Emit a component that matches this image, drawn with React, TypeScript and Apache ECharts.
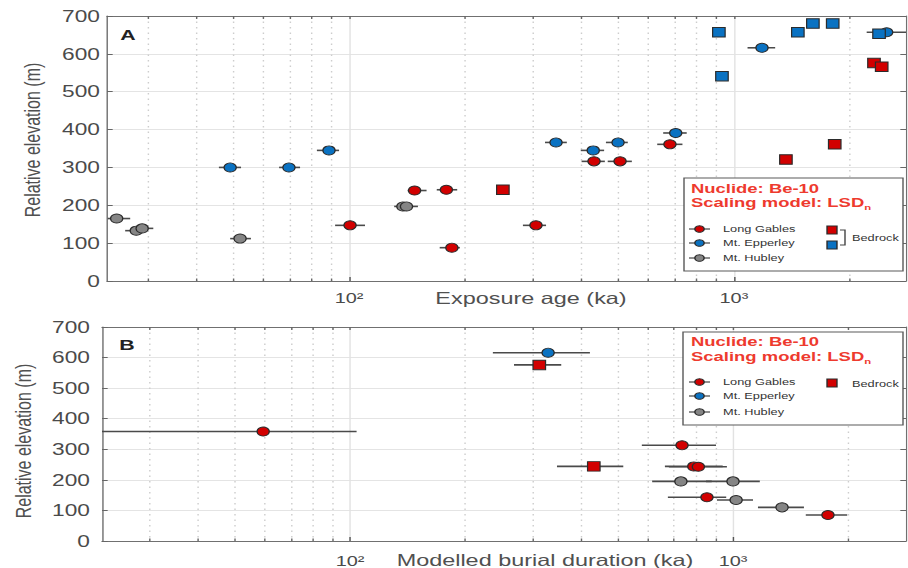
import React, { useEffect, useRef } from 'react';
import * as echarts from 'echarts';

// The reference figure is stretched horizontally; the chart is drawn narrower and scaled in x.
const S = 1.42;
const FONT = "'Liberation Sans', Arial, Helvetica, sans-serif";

// ---------- Panel A: exposure age (ka) vs relative elevation (m) ----------
const aLongGablesAge = [100.6, 148, 179, 185, 306, 433, 506, 682];
const aLongGablesElev = [147, 239, 241, 88, 147, 316, 316, 361];
const aLongGablesLo = [92, 142, 169, 172, 283, 402, 470, 632];
const aLongGablesHi = [110, 159, 191, 194, 325, 462, 543, 735];

const aEpperleyAge = [49.1, 69.8, 88.7, 345, 431, 500, 706, 1183, 2494];
const aEpperleyElev = [300, 300, 345, 366, 345, 366, 391, 616, 657];
const aEpperleyLo = [45.9, 65.8, 82.5, 323, 400, 465, 655, 1085, 2213];
const aEpperleyHi = [52.4, 74.6, 94.2, 368, 460, 530, 754, 1280, 2850];

const aHubleyAge = [24.9, 28.0, 29.0, 52.1, 138, 141];
const aHubleyElev = [165, 133, 139, 112, 197, 197];
const aHubleyLo = [23.6, 26.2, 27.3, 49.1, 131, 134];
const aHubleyHi = [27.0, 29.8, 31.0, 55.6, 146, 151];

const aBedrockRedAge = [251, 1365, 1828, 2312, 2421];
const aBedrockRedElev = [241, 321, 361, 576, 566];
const aBedrockBlueAge = [914, 931, 1466, 1604, 1806, 2383];
const aBedrockBlueElev = [657, 541, 657, 680, 680, 653];

// ---------- Panel B: modelled burial duration (ka) vs relative elevation (m) ----------
const bLongGablesDur = [59.3, 736, 790, 812, 855, 1770];
const bLongGablesElev = [358, 313, 244, 243, 143, 85];
const bLongGablesLo = [10, 578, 664, 680, 676, 1549];
const bLongGablesHi = [104, 903, 940, 964, 960, 1987];

const bEpperleyDur = [329];
const bEpperleyElev = [616];
const bEpperleyLo = [236];
const bEpperleyHi = [423];

const bHubleyDur = [731, 1000, 1019, 1343];
const bHubleyElev = [195, 195, 134, 110];
const bHubleyLo = [615, 850, 908, 1162];
const bHubleyHi = [880, 1175, 1128, 1532];

const bBedrockDur = [312, 433];
const bBedrockElev = [576, 244];
const bBedrockLo = [268, 347];
const bBedrockHi = [356, 517];

// ---------- Axes ----------
const aAgeMin = 23.5;
const aAgeMax = 2800;
const bDurMin = 22.5;
const bDurMax = 2830;
const elevMin = 0;
const elevMax = 700;
const elevStep = 100;
const xMajorValues = [100, 1000];
const xMajorLabels = ['10²', '10³'];
const xMinorValues = [30, 40, 50, 60, 70, 80, 90, 200, 300, 400, 500, 600, 700, 800, 900, 2000];

const legendNames = ['Long Gables', 'Mt. Epperley', 'Mt. Hubley'];
const bedrockName = 'Bedrock';
const nuclideText = 'Nuclide: Be-10';
const scalingText = 'Scaling model: LSD';
const scalingSub = 'n';
const xNameA = 'Exposure age (ka)';
const xNameB = 'Modelled burial duration (ka)';
const yName = 'Relative elevation (m)';

const RED = '#d20000';
const BLUE = '#0a72c2';
const GRAY = '#858585';
const TITLE_RED = '#ee3a2e';
const AXIS_COL = '#707070';
const LABEL_COL = '#4a4a4a';
const MARK_SIZE = [8.6, 9];

const sx = (px: number) => px / S;

function labelFor(v: number) {
  let best = 0;
  let bd = Infinity;
  xMajorValues.forEach((m, i) => {
    const d = Math.abs(Math.log10(v) - Math.log10(m));
    if (d < bd) { bd = d; best = i; }
  });
  return xMajorLabels[best];
}

function xAxes(gridIndex: number, min: number, max: number, labelMargin: number) {
  const base = { type: 'log', logBase: 10, gridIndex, min, max };
  return [
    {
      ...base,
      position: 'bottom',
      axisLine: { show: true, onZero: false, lineStyle: { color: AXIS_COL, width: 1 } },
      axisTick: { show: true, inside: true, length: 4, customValues: xMajorValues, lineStyle: { color: '#555' } },
      axisLabel: {
        show: true, customValues: xMajorValues, margin: labelMargin, fontSize: 14,
        fontFamily: FONT, color: LABEL_COL, formatter: (v: number) => labelFor(v),
      },
      splitLine: { show: true, lineStyle: { color: '#e2e2e2', width: 1, type: 'solid' } },
      minorTick: { show: false },
      minorSplitLine: { show: false },
    },
    {
      ...base,
      position: 'bottom',
      axisLine: { show: false, onZero: false },
      axisTick: { show: true, inside: true, length: 2.5, customValues: xMinorValues, lineStyle: { color: '#666' } },
      axisLabel: { show: false },
      splitLine: { show: true, lineStyle: { color: '#cdcdcd', width: 1, type: [1.5, 4] } },
      minorTick: { show: false },
      minorSplitLine: { show: false },
    },
    {
      ...base,
      position: 'top',
      axisLine: { show: true, onZero: false, lineStyle: { color: AXIS_COL, width: 1 } },
      axisTick: { show: true, inside: true, length: 3, customValues: [...xMajorValues, ...xMinorValues], lineStyle: { color: '#666' } },
      axisLabel: { show: false },
      splitLine: { show: false },
      minorTick: { show: false },
      minorSplitLine: { show: false },
    },
  ];
}

function yAxes(gridIndex: number, labelMargin: number) {
  const base = { type: 'value', gridIndex, min: elevMin, max: elevMax, interval: elevStep };
  return [
    {
      ...base,
      position: 'left',
      axisLine: { show: true, onZero: false, lineStyle: { color: AXIS_COL, width: 1 } },
      axisTick: { show: true, inside: true, length: 4, lineStyle: { color: '#666' } },
      axisLabel: { margin: labelMargin, fontSize: 16, fontFamily: FONT, color: LABEL_COL },
      splitLine: { show: true, lineStyle: { color: '#e4e4e4', width: 1 } },
    },
    {
      ...base,
      position: 'right',
      axisLine: { show: true, onZero: false, lineStyle: { color: AXIS_COL, width: 1 } },
      axisTick: { show: true, inside: true, length: 4, lineStyle: { color: '#666' } },
      axisLabel: { show: false },
      splitLine: { show: false },
    },
  ];
}

const renderBar = (params: any, api: any) => {
  const cs = params.coordSys;
  const a = api.coord([api.value(0), api.value(2)]);
  const b = api.coord([api.value(1), api.value(2)]);
  const x1 = Math.max(cs.x, a[0]);
  const x2 = Math.min(cs.x + cs.width, b[0]);
  return {
    type: 'line',
    shape: { x1, y1: a[1], x2, y2: b[1] },
    style: { stroke: '#4a4a4a', lineWidth: 1.6 },
  };
};

function errorSeries(xi: number, yi: number, lo: number[], hi: number[], elev: number[]) {
  return {
    type: 'custom',
    xAxisIndex: xi,
    yAxisIndex: yi,
    data: lo.map((l, i) => [l, hi[i], elev[i]]),
    encode: { x: [0, 1], y: 2 },
    renderItem: renderBar,
    z: 2,
    silent: true,
  };
}

function markerSeries(name: string, xi: number, yi: number, xs: number[], ys: number[], symbol: string, color: string) {
  return {
    type: 'scatter',
    name,
    xAxisIndex: xi,
    yAxisIndex: yi,
    data: xs.map((x, i) => [x, ys[i]]),
    symbol,
    symbolSize: symbol === 'rect' ? [8.8, 9.5] : MARK_SIZE,
    itemStyle: { color, borderColor: '#2b2b2b', borderWidth: 0.9, opacity: 1 },
    z: 3,
    silent: true,
  };
}

function textEl(x: number, y: number, text: string, extra: any = {}) {
  return {
    type: 'text',
    x: sx(x),
    y,
    z: 100,
    style: {
      text,
      fill: '#333',
      fontFamily: FONT,
      fontSize: 9,
      align: 'left',
      verticalAlign: 'middle',
      ...extra,
    },
  };
}

function legendEls(
  box: [number, number, number, number],
  nucY: number,
  scaleY: number,
  rowYs: number[],
  bedrockYs: number[],
  bedrockColors: string[],
  bedrockTextY: number,
  bracket: boolean,
) {
  const [x0, y0, x1, y1] = box;
  const els: any[] = [];
  els.push({
    type: 'rect', z: 99,
    shape: { x: sx(x0), y: y0, width: sx(x1 - x0), height: y1 - y0 },
    style: { fill: '#ffffff', stroke: '#5a5a5a', lineWidth: 1 },
  });
  els.push(textEl(691, nucY, nuclideText, { fill: TITLE_RED, fontSize: 13, fontWeight: 'bold' }));
  els.push({
    type: 'text', x: sx(691), y: scaleY, z: 100,
    style: {
      text: `{a|${scalingText}}{b|${scalingSub}}`,
      fill: TITLE_RED,
      fontFamily: FONT,
      fontSize: 13,
      fontWeight: 'bold',
      align: 'left',
      verticalAlign: 'middle',
      rich: {
        a: { fill: TITLE_RED, fontSize: 13, fontWeight: 'bold', fontFamily: FONT, lineHeight: 16 },
        b: { fill: TITLE_RED, fontSize: 8, fontWeight: 'bold', fontFamily: FONT, lineHeight: 6, verticalAlign: 'bottom' },
      },
    },
  });
  const cols = [RED, BLUE, GRAY];
  rowYs.forEach((y, i) => {
    els.push({
      type: 'line', z: 100,
      shape: { x1: sx(689), y1: y, x2: sx(710), y2: y },
      style: { stroke: '#444', lineWidth: 1.2 },
    });
    els.push({
      type: 'circle', z: 101,
      shape: { cx: sx(699.5), cy: y, r: 3.3 },
      style: { fill: cols[i], stroke: '#2b2b2b', lineWidth: 1 },
    });
    els.push(textEl(723, y, legendNames[i]));
  });
  bedrockYs.forEach((y, i) => {
    els.push({
      type: 'rect', z: 100,
      shape: { x: sx(832) - 3.5, y: y - 4, width: 7, height: 8 },
      style: { fill: bedrockColors[i], stroke: '#2b2b2b', lineWidth: 1 },
    });
  });
  if (bracket && bedrockYs.length > 1) {
    const ya = bedrockYs[0];
    const yb = bedrockYs[bedrockYs.length - 1];
    els.push({
      type: 'polyline', z: 100,
      shape: { points: [[sx(840), ya], [sx(845), ya], [sx(845), yb], [sx(840), yb]] },
      style: { stroke: '#444', lineWidth: 1, fill: null },
    });
  }
  els.push(textEl(852, bedrockTextY, bedrockName));
  return els;
}

function buildOption() {
  const graphics: any[] = [
    // axis titles
    { type: 'text', x: sx(531), y: 298, z: 100, style: { text: xNameA, fill: '#505050', fontFamily: FONT, fontSize: 16.5, align: 'center', verticalAlign: 'middle' } },
    { type: 'text', x: sx(545), y: 560, z: 100, style: { text: xNameB, fill: '#505050', fontFamily: FONT, fontSize: 16.5, align: 'center', verticalAlign: 'middle' } },
    { type: 'text', x: sx(32), y: 140, rotation: Math.PI / 2, z: 100, style: { text: yName, fill: '#505050', fontFamily: FONT, fontSize: 16, align: 'center', verticalAlign: 'middle' } },
    { type: 'text', x: sx(23), y: 441, rotation: Math.PI / 2, z: 100, style: { text: yName, fill: '#505050', fontFamily: FONT, fontSize: 16, align: 'center', verticalAlign: 'middle' } },
    // panel letters
    { type: 'text', x: sx(128), y: 35, z: 100, style: { text: 'A', fill: '#222', fontFamily: FONT, fontSize: 15, fontWeight: 'bold', align: 'center', verticalAlign: 'middle' } },
    { type: 'text', x: sx(127), y: 345, z: 100, style: { text: 'B', fill: '#222', fontFamily: FONT, fontSize: 15, fontWeight: 'bold', align: 'center', verticalAlign: 'middle' } },
    ...legendEls([684, 178, 903, 271], 189, 203, [229, 243, 258], [230, 245], [RED, BLUE], 238, true),
    ...legendEls([683, 332, 903, 425], 342, 357, [382, 396, 412], [383], [RED], 384, false),
  ];

  return {
    animation: false,
    backgroundColor: '#ffffff',
    grid: [
      { left: sx(107), top: 16, width: sx(906 - 107), height: 265 },
      { left: sx(102), top: 327, width: sx(906 - 102), height: 215 },
    ],
    xAxis: [...xAxes(0, aAgeMin, aAgeMax, 10), ...xAxes(1, bDurMin, bDurMax, 13)],
    yAxis: [...yAxes(0, 5), ...yAxes(1, 8.5)],
    graphic: { elements: graphics },
    series: [
      // Panel A
      errorSeries(0, 0, aLongGablesLo, aLongGablesHi, aLongGablesElev),
      errorSeries(0, 0, aEpperleyLo, aEpperleyHi, aEpperleyElev),
      errorSeries(0, 0, aHubleyLo, aHubleyHi, aHubleyElev),
      markerSeries(legendNames[0], 0, 0, aLongGablesAge, aLongGablesElev, 'circle', RED),
      markerSeries(legendNames[1], 0, 0, aEpperleyAge, aEpperleyElev, 'circle', BLUE),
      markerSeries(legendNames[2], 0, 0, aHubleyAge, aHubleyElev, 'circle', GRAY),
      markerSeries(bedrockName + ' LG', 0, 0, aBedrockRedAge, aBedrockRedElev, 'rect', RED),
      markerSeries(bedrockName + ' ME', 0, 0, aBedrockBlueAge, aBedrockBlueElev, 'rect', BLUE),
      // Panel B
      errorSeries(3, 2, bLongGablesLo, bLongGablesHi, bLongGablesElev),
      errorSeries(3, 2, bEpperleyLo, bEpperleyHi, bEpperleyElev),
      errorSeries(3, 2, bHubleyLo, bHubleyHi, bHubleyElev),
      errorSeries(3, 2, bBedrockLo, bBedrockHi, bBedrockElev),
      markerSeries(legendNames[0] + ' B', 3, 2, bLongGablesDur, bLongGablesElev, 'circle', RED),
      markerSeries(legendNames[1] + ' B', 3, 2, bEpperleyDur, bEpperleyElev, 'circle', BLUE),
      markerSeries(legendNames[2] + ' B', 3, 2, bHubleyDur, bHubleyElev, 'circle', GRAY),
      markerSeries(bedrockName + ' B', 3, 2, bBedrockDur, bBedrockElev, 'rect', RED),
    ],
  };
}

export default function App() {
  const ref = useRef<HTMLDivElement>(null);
  useEffect(() => {
    if (!ref.current) return;
    const chart = echarts.init(ref.current, null, { renderer: 'svg' });
    chart.setOption(buildOption() as any);
    return () => chart.dispose();
  }, []);
  return (
    <div style={{ position: 'absolute', left: 0, top: 0, width: 908, height: 568, overflow: 'hidden', background: '#fff' }}>
      <div
        ref={ref}
        style={{ width: 908 / S, height: 568, transform: `scaleX(${S})`, transformOrigin: '0 0' }}
      />
    </div>
  );
}
